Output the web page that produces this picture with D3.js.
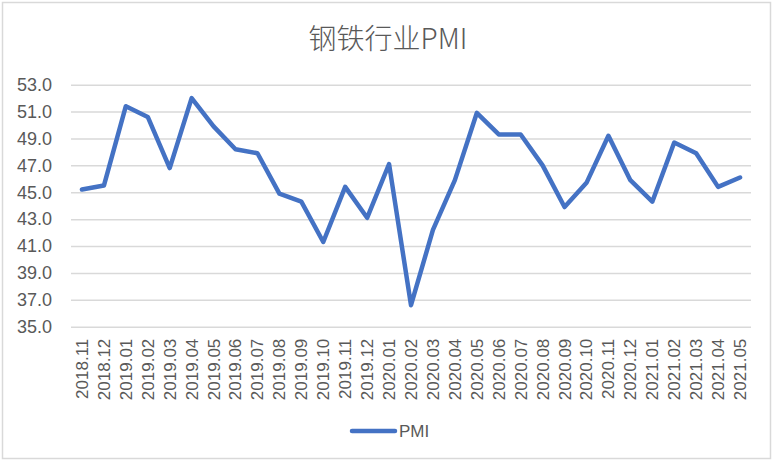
<!DOCTYPE html>
<html lang="zh">
<head>
<meta charset="utf-8">
<script src="https://cdn.jsdelivr.net/npm/d3@7/dist/d3.min.js"></script>
<style>
  body { margin: 0; background: #fff; }
  svg { display: block; }
</style>
</head>
<body>
<svg id="chart" width="778" height="464"></svg>
<script>
// 数据
var months = ["2018.11","2018.12","2019.01","2019.02","2019.03","2019.04","2019.05","2019.06",
  "2019.07","2019.08","2019.09","2019.10","2019.11","2019.12","2020.01","2020.02","2020.03",
  "2020.04","2020.05","2020.06","2020.07","2020.08","2020.09","2020.10","2020.11","2020.12",
  "2021.01","2021.02","2021.03","2021.04","2021.05"];
var pmiValues = [45.2, 45.5, 51.4, 50.6, 46.8, 52.0, 49.9, 48.2,
  47.9, 44.9, 44.3, 41.3, 45.4, 43.1, 47.1, 36.6, 42.2,
  45.9, 50.9, 49.3, 49.3, 47.0, 43.9, 45.7, 49.2, 45.9,
  44.3, 48.7, 47.9, 45.4, 46.1];
var yTicks = [35, 37, 39, 41, 43, 45, 47, 49, 51, 53];
var seriesName = "PMI";
var title = "钢铁行业PMI";

var svg = d3.select("#chart");
var textColor = "#595959";
var font = "'Liberation Sans', Arial, 'Noto Sans CJK SC', sans-serif";

// 外框
svg.append("rect")
  .attr("x", 2.5).attr("y", 2.5)
  .attr("width", 768).attr("height", 456)
  .attr("fill", "#fff")
  .attr("stroke", "#d9d9d9")
  .attr("stroke-width", 1.5);

var xScale = d3.scaleBand()
  .domain(months)
  .range([71, 751]);

var yScale = d3.scaleLinear()
  .domain([35, 53])
  .range([326.7, 84.7]);

// 网格线
var yAxisG = svg.append("g")
  .attr("transform", "translate(71, 0)")
  .call(d3.axisLeft(yScale).tickValues(yTicks).tickSize(-680).tickFormat(d3.format(".1f")));
yAxisG.select(".domain").remove();
yAxisG.selectAll(".tick line")
  .attr("stroke", "#d9d9d9")
  .attr("stroke-width", 1.5);
yAxisG.selectAll(".tick text")
  .attr("x", -19)
  .attr("fill", textColor)
  .style("font-family", font)
  .style("font-size", "18px");

// x轴标签
var xAxisG = svg.append("g")
  .attr("transform", "translate(0, 326.7)")
  .call(d3.axisBottom(xScale).tickSize(0));
xAxisG.select(".domain").remove();
xAxisG.selectAll(".tick text")
  .attr("transform", "rotate(-90)")
  .attr("x", -12)
  .attr("y", 0)
  .attr("dy", "0.35em")
  .attr("fill", textColor)
  .style("text-anchor", "end")
  .style("font-family", font)
  .style("font-size", "17px");

// 折线
var lineGenerator = d3.line()
  .x(function(d, i) { return xScale(months[i]) + xScale.bandwidth() / 2; })
  .y(function(d) { return yScale(d); });

svg.append("path")
  .attr("d", lineGenerator(pmiValues))
  .attr("fill", "none")
  .attr("stroke", "#4472c4")
  .attr("stroke-width", 4.5)
  .attr("stroke-linejoin", "round")
  .attr("stroke-linecap", "round");

// 标题
svg.append("text")
  .attr("x", 388)
  .attr("y", 49)
  .attr("fill", textColor)
  .style("text-anchor", "middle")
  .style("font-family", "'Noto Sans CJK SC', sans-serif")
  .style("font-weight", 300)
  .style("font-size", "28px")
  .text(title);

// 图例
svg.append("line")
  .attr("x1", 352).attr("x2", 395)
  .attr("y1", 431).attr("y2", 431)
  .attr("stroke", "#4472c4")
  .attr("stroke-width", 4.5)
  .attr("stroke-linecap", "round");

svg.append("text")
  .attr("x", 399)
  .attr("y", 437)
  .attr("fill", textColor)
  .style("font-family", font)
  .style("font-size", "17px")
  .text(seriesName);
</script>
</body>
</html>
